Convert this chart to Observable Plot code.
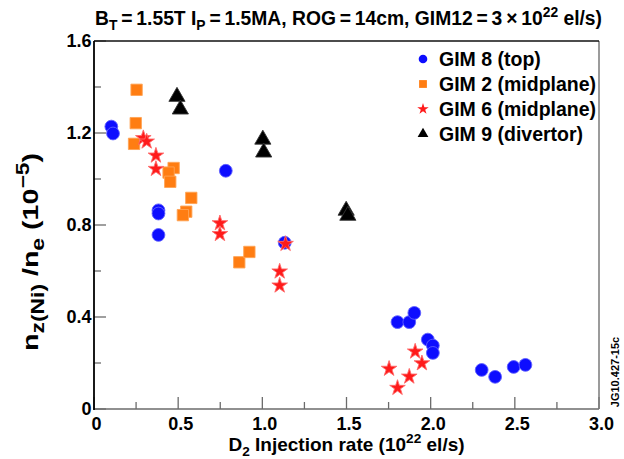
<!DOCTYPE html>
<html>
<head>
<meta charset="utf-8">
<script src="https://cdn.jsdelivr.net/npm/d3@7"></script>
<script src="https://cdn.jsdelivr.net/npm/@observablehq/plot@0.6"></script>
<style>
  html, body { margin: 0; padding: 0; background: #fff; }
  svg { display: block; }
</style>
</head>
<body>
<div id="chart"></div>
<script>
// ---- Data ----
const seriesNames = ["GIM 8 (top)", "GIM 2 (midplane)", "GIM 6 (midplane)", "GIM 9 (divertor)"];

const gim8X = [0.10, 0.11, 0.38, 0.38, 0.38, 0.78, 1.13, 1.80, 1.87, 1.90, 1.98, 2.01, 2.01, 2.30, 2.38, 2.49, 2.56];
const gim8Y = [1.23, 1.20, 0.866, 0.852, 0.759, 1.038, 0.725, 0.38, 0.38, 0.42, 0.304, 0.278, 0.246, 0.172, 0.142, 0.185, 0.194];

const gim2X = [0.25, 0.245, 0.235, 0.47, 0.44, 0.45, 0.575, 0.545, 0.525, 0.86, 0.92];
const gim2Y = [1.39, 1.245, 1.155, 1.05, 1.03, 0.99, 0.92, 0.86, 0.845, 0.64, 0.685];

const gim6X = [0.29, 0.31, 0.365, 0.365, 0.745, 0.745, 1.10, 1.10, 1.135, 1.75, 1.80, 1.87, 1.905, 1.945];
const gim6Y = [1.18, 1.165, 1.104, 1.046, 0.81, 0.763, 0.60, 0.539, 0.72, 0.177, 0.094, 0.143, 0.252, 0.201];

const gim9X = [0.49, 0.51, 1.0, 1.005, 1.495, 1.505];
const gim9Y = [1.36, 1.305, 1.174, 1.118, 0.865, 0.843];

const xTickValues = [0, 0.25, 0.5, 0.75, 1.0, 1.25, 1.5, 1.75, 2.0, 2.25, 2.5, 2.75, 3.0];
const xTickLabels = ["0", "0.5", "1.0", "1.5", "2.0", "2.5", "3.0"];
const yTickValues = [0, 0.2, 0.4, 0.6, 0.8, 1.0, 1.2, 1.4, 1.6];
const yTickLabels = ["0", "0.4", "0.8", "1.2", "1.6"];

// ---- Styles ----
const FONT = "'Liberation Sans', Arial, Helvetica, sans-serif";
const styles = {
  "GIM 8 (top)":      {symbol: "circle",   fill: "#0d0dff", stroke: "#6060ff", r: 6.4, lr: 4.3},
  "GIM 2 (midplane)": {symbol: "square",   fill: "#ff7d12", stroke: "#ffa455", r: 6.4, lr: 4.4},
  "GIM 6 (midplane)": {symbol: "star",     fill: "#ff1a1a", stroke: "#ff6a6a", r: 4.9, lr: 3.6},
  "GIM 9 (divertor)": {symbol: "triangle", fill: "#000000", stroke: "#333333", r: 6.0, lr: 4.0}
};

const toRows = (xs, ys, name) => xs.map((x, i) => ({x, y: ys[i], series: name}));
const data8 = toRows(gim8X, gim8Y, seriesNames[0]);
const data2 = toRows(gim2X, gim2Y, seriesNames[1]);
const data6 = toRows(gim6X, gim6Y, seriesNames[2]);
const data9 = toRows(gim9X, gim9Y, seriesNames[3]);

function dots(rows) {
  const s = styles[rows[0].series];
  return Plot.dot(rows, {x: "x", y: "y", symbol: () => s.symbol, fill: s.fill, stroke: s.stroke, strokeWidth: 0.9, r: s.r});
}

// helper: build rich text with sub/superscripts
function richText(g, parts, attrs, scale = 0.72) {
  const t = g.append("text");
  for (const [k, v] of Object.entries(attrs)) t.attr(k, v);
  let shift = 0; // in parent em
  for (const p of parts) {
    const [txt, kind] = Array.isArray(p) ? p : [p, null];
    const target = kind === "sub" ? 0.28 : kind === "sup" ? -0.42 : 0;
    const ts = t.append("tspan").text(txt);
    const dy = target - shift;
    if (kind) {
      ts.attr("font-size", (scale * 100) + "%");
      if (dy !== 0) ts.attr("dy", (dy / scale) + "em");
    } else if (dy !== 0) {
      ts.attr("dy", dy + "em");
    }
    shift = target;
  }
  return t;
}

// frame + inward ticks
function frameAndTicks(index, scales, values, dims) {
  const {x, y} = scales;
  const left = dims.marginLeft, right = dims.width - dims.marginRight;
  const top = dims.marginTop, bottom = dims.height - dims.marginBottom;
  const g = d3.create("svg:g");
  const t = g.append("g").attr("stroke", "#6b6b6b").attr("stroke-width", 1.3);
  xTickValues.forEach((v, i) => {
    const len = i % 2 === 0 ? 12 : 7;
    t.append("line").attr("x1", x(v)).attr("x2", x(v)).attr("y1", bottom).attr("y2", bottom - len);
  });
  yTickValues.forEach((v, i) => {
    const len = i % 2 === 0 ? 12 : 7;
    t.append("line").attr("x1", left).attr("x2", left + len).attr("y1", y(v)).attr("y2", y(v));
  });
  g.append("line").attr("x1", left).attr("x2", right).attr("y1", bottom).attr("y2", bottom).attr("stroke", "#6b6b6b").attr("stroke-width", 1.5);
  g.append("line").attr("x1", right).attr("x2", right).attr("y1", top).attr("y2", bottom).attr("stroke", "#7a7a7a").attr("stroke-width", 1.5);
  g.append("line").attr("x1", left).attr("x2", right).attr("y1", top).attr("y2", top).attr("stroke", "#111").attr("stroke-width", 1.5);
  g.append("line").attr("x1", left).attr("x2", left).attr("y1", top).attr("y2", bottom + 1).attr("stroke", "#000").attr("stroke-width", 1.8);
  return g.node();
}

function legendMark(index, scales, values, dims) {
  const g = d3.create("svg:g");
  const x0 = 423;
  const rowY = [59, 84, 109, 134];
  seriesNames.forEach((name, i) => {
    const s = styles[name];
    const sym = {circle: d3.symbolCircle, square: d3.symbolSquare, star: d3.symbolStar, triangle: d3.symbolTriangle}[s.symbol];
    g.append("path")
      .attr("transform", `translate(${x0},${rowY[i]})`)
      .attr("d", d3.symbol(sym, Math.PI * s.lr * s.lr)())
      .attr("fill", s.fill);
    g.append("text")
      .attr("x", x0 + 16).attr("y", rowY[i]).attr("dy", "0.36em")
      .attr("text-anchor", "start")
      .attr("font-size", 19.5).attr("font-weight", "bold").attr("font-family", FONT)
      .attr("fill", "#000")
      .text(name);
  });
  return g.node();
}

function titlesMark(index, scales, values, dims) {
  const g = d3.create("svg:g").attr("font-family", FONT).attr("font-weight", "bold").attr("fill", "#000");
  const left = dims.marginLeft, right = dims.width - dims.marginRight;
  const bottom = dims.height - dims.marginBottom;
  // Title
  richText(g, ["B", ["T", "sub"], "\u2009=\u20091.55T I", ["P", "sub"], "\u2009=\u20091.5MA, ROG\u2009=\u200914cm, GIM12\u2009=\u20093\u2009\u00d7\u200910", ["22", "sup"], " el/s)"],
    {x: 95, y: 25, "font-size": 19.5, "text-anchor": "start", textLength: 507, lengthAdjust: "spacingAndGlyphs"});
  // X label
  richText(g, ["D", ["2", "sub"], " Injection rate (10", ["22", "sup"], " el/s)"],
    {x: (left + right) / 2, y: bottom + 42, "font-size": 19, "text-anchor": "middle"});
  // Y label
  richText(g, ["n", ["z(Ni)", "sub"], " /n", ["e", "sub"], " (10", ["\u22125", "sup"], ")"],
    {transform: `translate(38,252) rotate(-90)`, "font-size": 22, "text-anchor": "middle",
     textLength: 198, lengthAdjust: "spacingAndGlyphs"}, 0.8);
  // Figure code
  g.append("text")
    .attr("transform", `translate(${dims.width - 9},372) rotate(-90)`)
    .attr("text-anchor", "middle").attr("dy", "0.35em")
    .attr("font-size", 11).text("JG10.427-15c");
  return g.node();
}

const plot = Plot.plot({
  width: 624,
  height: 459,
  marginLeft: 94,
  marginRight: 25,
  marginTop: 41,
  marginBottom: 50,
  style: {fontFamily: FONT, background: "#fff", color: "#000", overflow: "visible"},
  x: {domain: [0, 3]},
  y: {domain: [0, 1.6]},
  marks: [
    Plot.axisX(xTickValues.filter((v, i) => i % 2 === 0), {
      tickSize: 0, tickPadding: 8, label: null, fontSize: 18, fontWeight: "bold",
      tickFormat: (d, i) => xTickLabels[i], dx: 2
    }),
    Plot.axisY(yTickValues.filter((v, i) => i % 2 === 0), {
      tickSize: 0, tickPadding: 3, label: null, fontSize: 18, fontWeight: "bold",
      tickFormat: (d, i) => yTickLabels[i]
    }),
    frameAndTicks,
    dots(data8),
    dots(data2),
    dots(data6),
    dots(data9),
    legendMark,
    titlesMark
  ]
});

document.getElementById("chart").appendChild(plot);
</script>
</body>
</html>
